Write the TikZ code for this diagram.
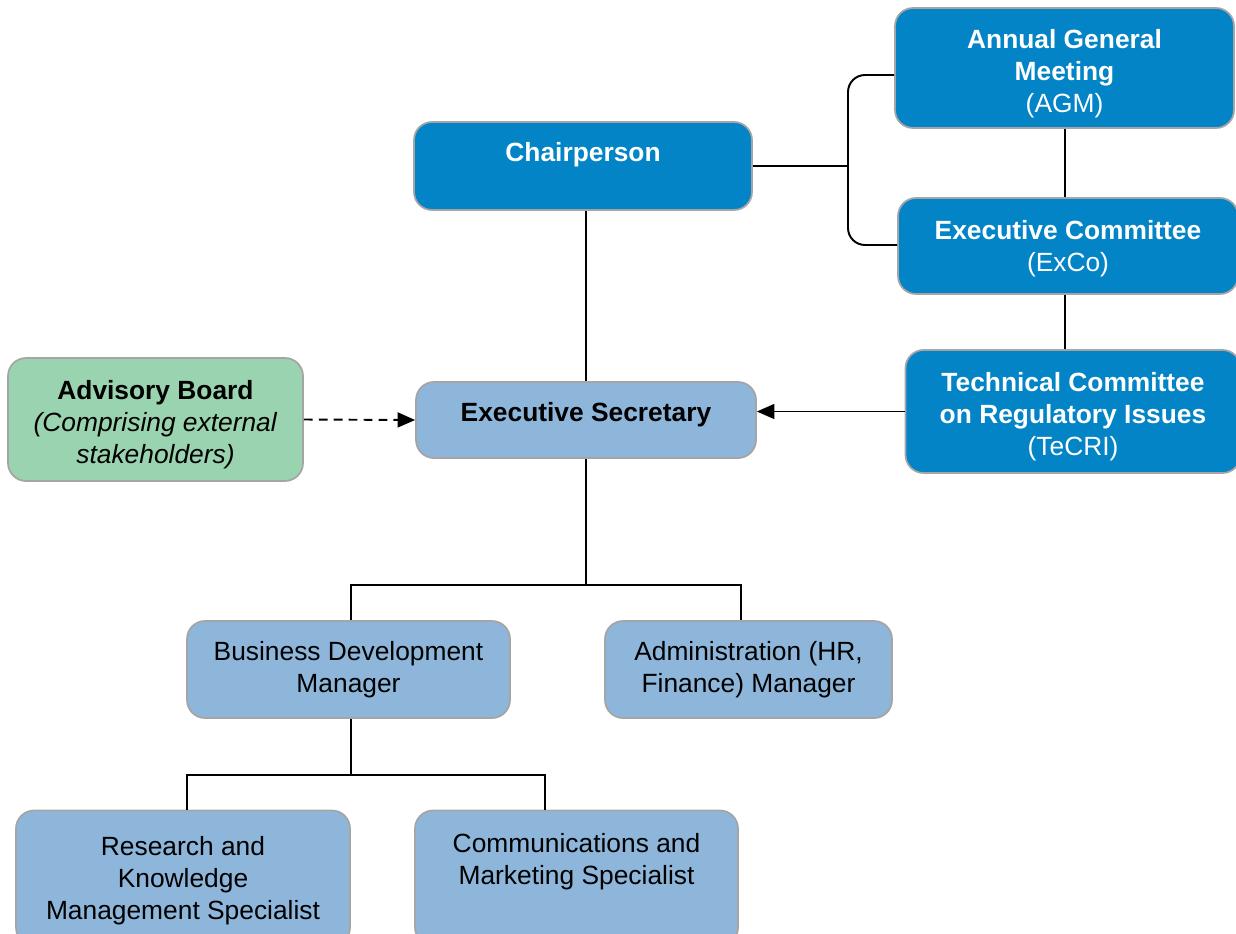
\documentclass[tikz,border=0pt]{standalone}
\usepackage{fontspec}
\setmainfont{Liberation Sans}
\usetikzlibrary{arrows.meta}
\definecolor{darkbox}{RGB}{2,132,199}
\definecolor{lightbox}{RGB}{141,182,218}
\definecolor{greenbox}{RGB}{154,211,176}
\definecolor{boxline}{RGB}{165,165,165}
\begin{document}
\begin{tikzpicture}[x=0.02cm,y=-0.02cm,line width=1.1pt]

	\tikzstyle{unit} = [draw=boxline,line width=1pt,rounded corners=0.36cm,inner sep=0pt,align=center,font=\fontsize{15}{18.2}\selectfont]
	\tikzstyle{topunit} = [unit,fill=darkbox,text=white]
	\tikzstyle{staff} = [unit,fill=lightbox]
	\tikzstyle{adviser} = [unit,fill=greenbox]
	\tikzstyle{link} = [line width=1.1pt]
	\tikzstyle{tip} = [-{Triangle[length=10pt,width=8.5pt]}]

	\useasboundingbox (0,0) rectangle (1236,933);

	% governance
	\node[topunit,minimum width=6.78cm,minimum height=2.4cm,text height=1.79cm,text depth=0cm] (agm) at (1064.5,68) {\textbf{Annual General}\\\textbf{Meeting}\\(AGM)};
	\node[topunit,minimum width=6.76cm,minimum height=1.76cm,text depth=0.56cm] (chair) at (583,166) {\textbf{Chairperson}};
	\node[topunit,minimum width=6.8cm,minimum height=1.92cm,text depth=0cm] (exco) at (1068,246) {\textbf{Executive Committee}\\(ExCo)};
	\node[topunit,minimum width=6.7cm,minimum height=2.46cm,text height=1.75cm,text depth=0cm] (tecri) at (1073,411.5) {\textbf{Technical Committee}\\\textbf{on Regulatory Issues}\\(TeCRI)};

	% secretariat
	\node[staff,minimum width=6.8cm,minimum height=1.52cm,text depth=0.32cm] (sec) at (586,420) {\textbf{Executive Secretary}};
	\node[adviser,minimum width=5.9cm,minimum height=2.46cm,text height=1.75cm,text depth=0cm] (adv) at (155.5,419.5) {\textbf{Advisory Board}\\\textit{(Comprising external}\\\textit{stakeholders)}};

	\node[staff,minimum width=6.46cm,minimum height=1.94cm] (bdm) at (348.5,669.5) {Business Development\\Manager};
	\node[staff,minimum width=5.74cm,minimum height=1.94cm] (adm) at (748.5,669.5) {Administration (HR,\\Finance) Manager};

	\node[staff,minimum width=6.68cm,minimum height=2.7cm,text depth=0cm] (res) at (183,878) {Research and\\Knowledge\\Management Specialist};
	\node[staff,minimum width=6.46cm,minimum height=2.7cm,text depth=0.76cm] (com) at (576.5,878) {Communications and\\Marketing Specialist};

	% connectors
	\coordinate (brace) at (chair.east -| 848,0);
	\coordinate (tier1) at (sec.south |- 0,585);
	\coordinate (tier2) at (351,775);

	\draw[link] (chair.east) -- (brace);
	\draw[link,rounded corners=0.34cm] (agm.west |- 0,75) -| (brace) |- (exco.west |- 0,245);
	\draw[link] (agm.south -| 1065,0) -- (exco.north -| 1065,0);
	\draw[link] (exco.south -| 1065,0) -- (tecri.north -| 1065,0);
	\draw[link] (chair.south -| sec.north) -- (sec.north);

	\draw[link,tip] (tecri.west) -- (tecri.west -| sec.east);
	\draw[link,tip,dash pattern=on 5pt off 3.5pt] (adv.east) -- (sec.west);

	\draw[link] (sec.south) -- (tier1);
	\draw[link] (bdm.north -| 351,0) |- (tier1) -| (adm.north -| 741,0);
	\draw[link] (bdm.south -| tier2) -- (tier2);
	\draw[link] (res.north -| 187,0) |- (tier2) -| (com.north -| 545,0);

\end{tikzpicture}
\end{document}
